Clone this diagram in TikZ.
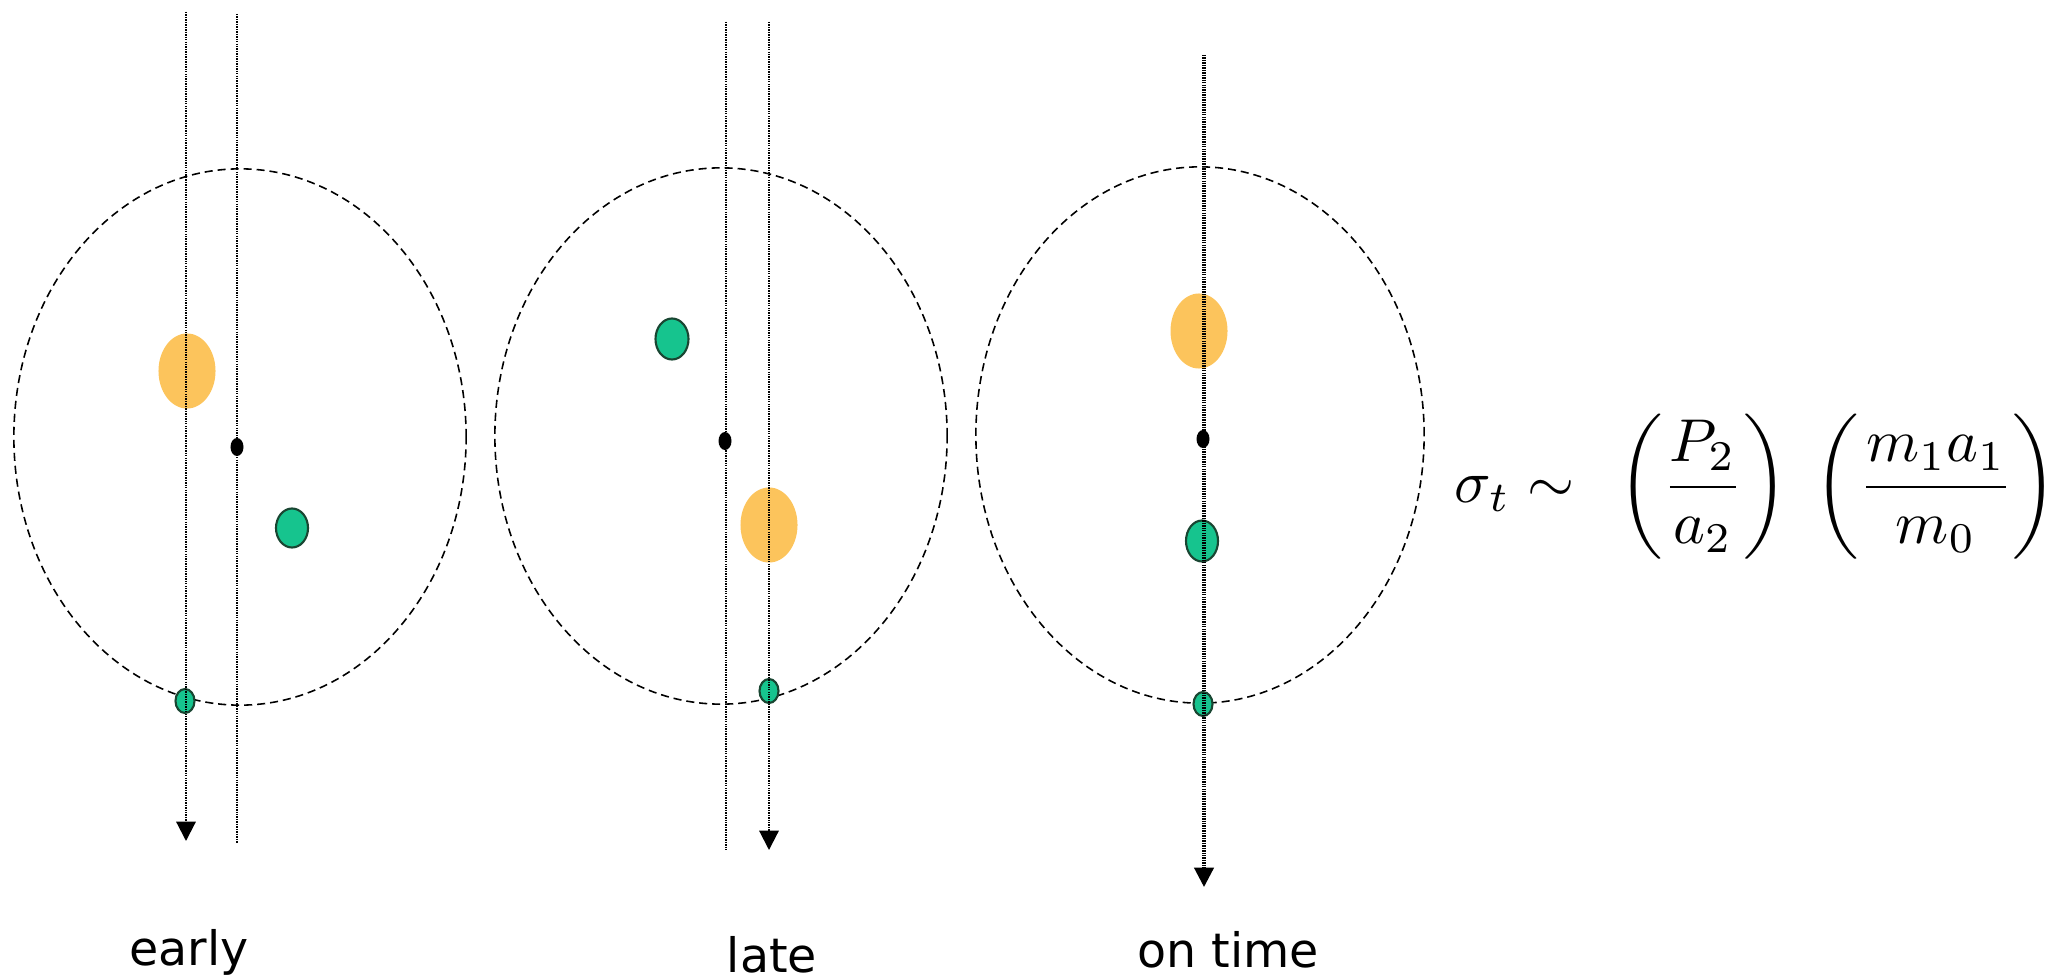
\documentclass[tikz,border=0pt]{standalone}
\usepackage{fontspec}
\usepackage{amsmath}
\usepackage{xcolor}
\usepackage{tikz}
\usetikzlibrary{arrows.meta,positioning,shapes.geometric}
\newfontfamily\comicfont{DejaVu Sans}
\definecolor{sunorange}{RGB}{252,196,92}
\definecolor{planetgreen}{RGB}{22,196,142}
\definecolor{planetedge}{RGB}{25,70,50}

\begin{document}
\begin{tikzpicture}[x=0.01cm, y=-0.01cm, every node/.style={align=center}]
\tikzset{
  orbit/.style={draw, ellipse, inner sep=0pt, line width=0.45pt, dash pattern=on 2.3pt off 1.4pt, minimum width=4.52cm, minimum height=5.36cm},
  sun/.style={ellipse, inner sep=0pt, fill=sunorange, minimum width=0.57cm, minimum height=0.75cm},
  planet/.style={ellipse, inner sep=0pt, draw=planetedge, line width=0.6pt, fill=planetgreen, minimum width=0.32cm, minimum height=0.39cm},
  moon/.style={planet, minimum width=0.19cm, minimum height=0.24cm},
  com/.style={ellipse, inner sep=0pt, fill=black, minimum width=0.13cm, minimum height=0.18cm},
  sight/.style={line width=0.6pt, dash pattern=on 0.4pt off 0.3pt},
  tip/.style={-{Triangle[width=5.5pt,length=5.5pt]}},
  lbl/.style={anchor=base, font=\comicfont\fontsize{13.5}{15}\selectfont}
}
\useasboundingbox (0,0) rectangle (2061,979);
\node[orbit] (orbA) at (240,437) {};
\node[sun] (sunA) at (187,371) {};
\node[com] (comA) at (237,447) {};
\node[planet] (plA) at (292,528) {};
\node[moon] (moA) at (185,701) {};
\coordinate (a1top) at (186,12);
\coordinate (a1bot) at (186,841);
\coordinate (a2top) at (237,14);
\coordinate (a2bot) at (237,843);
\draw[sight,tip] (a1top) -- (a1bot);
\draw[sight] (a2top) -- (a2bot);
\node[lbl] (early) at (189,965) {early};
\node[orbit] (orbB) at (721,436) {};
\node[sun] (sunB) at (769,525) {};
\node[com] (comB) at (725,441) {};
\node[planet, minimum height=0.41cm, minimum width=0.33cm] (plB) at (672,339) {};
\node[moon] (moB) at (769,691) {};
\coordinate (b1top) at (726,22);
\coordinate (b1bot) at (726,850);
\coordinate (b2top) at (769,22);
\coordinate (b2bot) at (769,850);
\draw[sight] (b1top) -- (b1bot);
\draw[sight,tip] (b2top) -- (b2bot);
\node[lbl] (late) at (772,972) {late};
\node[orbit, minimum width=4.48cm] (orbC) at (1200,435) {};
\node[sun] (sunC) at (1199,331) {};
\node[com] (comC) at (1203,439) {};
\node[planet, minimum height=0.41cm] (plC) at (1202,541) {};
\node[moon] (moC) at (1203,704) {};
\coordinate (c1top) at (1204,55);
\coordinate (c1bot) at (1204,887);
\draw[sight,tip,line width=0.9pt] (c1top) -- (c1bot);
\node[lbl] (ontime) at (1228,967) {on time};
\node[scale=1.72] (timing) at (1756,487) {$\displaystyle \sigma_t \sim\;\,\left(\frac{P_2}{a_2}\right)\;\left(\frac{m_1a_1}{m_0}\right)$};
\end{tikzpicture}
\end{document}
